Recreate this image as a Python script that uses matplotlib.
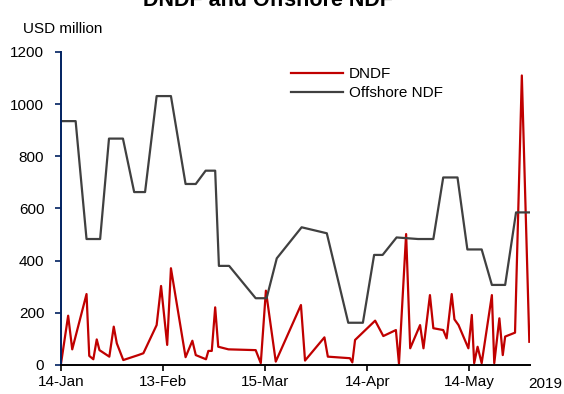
import matplotlib
matplotlib.use("Agg")
import matplotlib.pyplot as plt
import matplotlib.dates as mdates
import pandas as pd

plt.rcParams['font.family'] = ['Liberation Sans', 'DejaVu Sans']

start = pd.Timestamp("2019-01-14")

# DNDF daily turnover (days counted from 14-Jan)
dndf_days = [0, 2.1, 3.3, 7.5, 8.3, 9.5, 10.5, 11.3, 14.2, 15.5, 16.4, 18.3,
             22.7, 24.2, 28.1, 29.4, 31.2, 32.3, 36.6, 38.6, 39.6, 42.6, 43.3,
             44.3, 45.3, 46.2, 49.2, 57.2, 58.7, 60.2, 63.1, 70.5, 71.7, 77.4,
             78.4, 84.9, 85.6, 86.4, 92.3, 94.7, 98.4, 99.3, 101.4, 102.6,
             105.5, 106.5, 108.4, 109.4, 112.3, 113.3, 114.8, 115.6, 116.8,
             119.7, 120.7, 121.4, 122.4, 123.6, 126.6, 127.3, 128.8, 129.8,
             130.5, 133.4, 135.4, 137.6]
dndf_vals = [5, 189, 60, 272, 35, 22, 98, 57, 32, 147, 83, 19,
             38, 45, 153, 303, 77, 371, 30, 93, 38, 22, 54,
             54, 221, 70, 60, 57, 7, 285, 13, 230, 17, 106,
             32, 26, 10, 96, 170, 111, 134, 5, 502, 64,
             153, 64, 268, 141, 134, 102, 272, 175, 153,
             64, 192, 7, 70, 7, 268, 7, 179, 38,
             109, 124, 1110, 89]

# Offshore NDF (weekly figures)
ndf_days = [0, 4.3, 7.5, 11.5, 14.1, 18.2, 21.5, 24.7, 28.1, 32.3, 36.6, 39.6,
            42.5, 45.3, 46.4, 49.4, 57.2, 60.4, 63.4, 70.7, 78.1, 84.4, 88.7,
            92.0, 94.5, 98.6, 104.9, 109.4, 112.3, 116.5, 119.4, 123.6, 126.6,
            130.5, 133.7, 137.6]
ndf_vals = [935, 935, 483, 483, 868, 868, 663, 663, 1031, 1031, 694, 694,
            745, 745, 380, 380, 256, 256, 409, 528, 505, 162, 162,
            422, 422, 489, 483, 483, 719, 719, 443, 443, 307,
            307, 585, 585]

dndf_x = start + pd.to_timedelta(dndf_days, unit="D")
ndf_x = start + pd.to_timedelta(ndf_days, unit="D")

fig = plt.figure(figsize=(5.64, 3.94), dpi=100)
ax = fig.add_axes([61 / 564, 1 - 365 / 394, 469 / 564, 313 / 394])

ax.plot(dndf_x, dndf_vals, color="#C00000", lw=1.6, label="DNDF")
ax.plot(ndf_x, ndf_vals, color="#404040", lw=1.6, label="Offshore NDF")

ax.set_ylim(0, 1200)
ax.set_yticks(range(0, 1201, 200))
ax.set_xlim(start, start + pd.Timedelta(days=137.8))
ax.set_xticks([start + pd.Timedelta(days=30 * k) for k in range(5)])
ax.xaxis.set_major_formatter(mdates.DateFormatter("%d-%b"))

for s in ["top", "right"]:
    ax.spines[s].set_visible(False)
ax.spines["left"].set_color("#002060")
ax.spines["left"].set_linewidth(1.4)
ax.spines["bottom"].set_color("black")
ax.spines["bottom"].set_linewidth(1.4)
ax.tick_params(axis="y", colors="#002060", labelcolor="black", length=4,
               width=1.2, labelsize=11, pad=8)
ax.tick_params(axis="x", colors="black", length=4, width=1.2,
               labelsize=11, pad=3)

leg = ax.legend(loc="upper left", bbox_to_anchor=(291 / 564, 1 - 67 / 394),
                bbox_transform=fig.transFigure, frameon=False, fontsize=11,
                handlelength=3.4, handletextpad=0.4, labelspacing=0.35,
                borderpad=0, borderaxespad=0)

fig.text(268 / 564, 1 - 6 / 394, "DNDF and Offshore NDF", ha="center",
         va="baseline", fontsize=15.5, fontweight="bold")
fig.text(23 / 564, 1 - 33 / 394, "USD million", ha="left", va="baseline",
         fontsize=11)
fig.text(528 / 564, 1 - 388 / 394, "2019", ha="left", va="baseline",
         fontsize=11)

fig.savefig("out.png", dpi=100)
